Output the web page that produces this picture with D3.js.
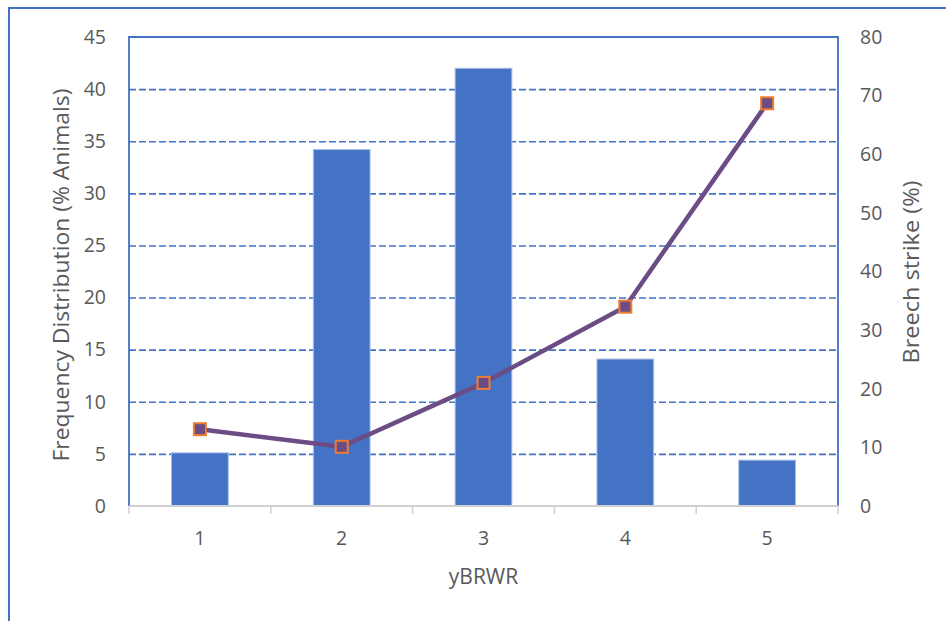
<!DOCTYPE html>
<html>
<head>
<meta charset="utf-8">
<script src="https://cdn.jsdelivr.net/npm/d3@7"></script>
<style>
  html, body { margin: 0; padding: 0; background: #fff; }
  svg { display: block; }
  text { font-family: "Open Sans", sans-serif; fill: #595959; }
</style>
</head>
<body>
<svg id="chart" width="946" height="621"></svg>
<script>
// yBRWR score categories
const categories = ["1", "2", "3", "4", "5"];
// Frequency distribution (% animals) per category — bars, left axis
const frequency = [5.1, 34.2, 42.0, 14.1, 4.4];
// Breech strike (%) per category — line, right axis
const breechStrike = [13.1, 10.1, 21.0, 34.0, 68.7];
// Axis tick values
const leftTicks = [0, 5, 10, 15, 20, 25, 30, 35, 40, 45];
const rightTicks = [0, 10, 20, 30, 40, 50, 60, 70, 80];

const svg = d3.select("#chart");
const plot = { left: 129, right: 838, top: 37, bottom: 506 };
const blue = "#4472c4";
const tickFont = 19.5;

const x = d3.scaleBand().domain(categories).range([plot.left, plot.right]).padding(0);
const yL = d3.scaleLinear().domain([0, 45]).range([plot.bottom, plot.top]);
const yR = d3.scaleLinear().domain([0, 80]).range([plot.bottom, plot.top]);

// Outer chart frame (left and top edges visible)
svg.append("path")
  .attr("d", `M9,621 V8 H946`)
  .attr("fill", "none")
  .attr("stroke", blue)
  .attr("stroke-width", 2);

// Dashed horizontal gridlines
const grid = svg.append("g")
  .attr("transform", `translate(${plot.left},0)`)
  .call(d3.axisLeft(yL).tickValues(leftTicks.filter(v => v > 0 && v < 45))
    .tickSize(-(plot.right - plot.left)).tickFormat(""));
grid.select(".domain").remove();
grid.selectAll(".tick line")
  .attr("stroke", blue)
  .attr("stroke-width", 1.6)
  .attr("stroke-dasharray", "7,3");

// Bars
const barW = x.bandwidth() * 0.4;
svg.append("g").selectAll("rect")
  .data(categories)
  .join("rect")
  .attr("x", (d) => x(d) + (x.bandwidth() - barW) / 2)
  .attr("y", (d, i) => yL(frequency[i]))
  .attr("width", barW)
  .attr("height", (d, i) => plot.bottom - yL(frequency[i]))
  .attr("fill", blue)
  .attr("stroke", "#a9bde3")
  .attr("stroke-width", 1);

// Plot area border: left, top, right in blue
svg.append("path")
  .attr("d", `M${plot.left},${plot.bottom} V${plot.top} H${plot.right} V${plot.bottom}`)
  .attr("fill", "none")
  .attr("stroke", blue)
  .attr("stroke-width", 1.8);

// Category axis line and boundary tick marks
svg.append("line")
  .attr("x1", plot.left).attr("x2", plot.right)
  .attr("y1", plot.bottom).attr("y2", plot.bottom)
  .attr("stroke", "#d0d0d0").attr("stroke-width", 2);
const bounds = categories.map(d => x(d)).concat([plot.right]);
svg.append("g").selectAll("line")
  .data(bounds)
  .join("line")
  .attr("x1", d => d).attr("x2", d => d)
  .attr("y1", plot.bottom).attr("y2", plot.bottom + 8)
  .attr("stroke", "#d0d0d0").attr("stroke-width", 1.5);

// Category labels
const xAxis = svg.append("g")
  .attr("transform", `translate(0,${plot.bottom})`)
  .call(d3.axisBottom(x).tickSize(0).tickPadding(25));
xAxis.select(".domain").remove();
xAxis.selectAll("text").attr("font-size", tickFont).style("font-family", "'Open Sans', sans-serif").attr("fill", "#595959");

// Left value axis labels
const leftAxis = svg.append("g")
  .attr("transform", `translate(${plot.left},0)`)
  .call(d3.axisLeft(yL).tickValues(leftTicks).tickSize(0).tickPadding(23));
leftAxis.select(".domain").remove();
leftAxis.selectAll("text").attr("font-size", tickFont).style("font-family", "'Open Sans', sans-serif").attr("fill", "#595959");

// Right value axis labels
const rightAxis = svg.append("g")
  .attr("transform", `translate(${plot.right},0)`)
  .call(d3.axisRight(yR).tickValues(rightTicks).tickSize(0).tickPadding(22));
rightAxis.select(".domain").remove();
rightAxis.selectAll("text").attr("font-size", tickFont).style("font-family", "'Open Sans', sans-serif").attr("fill", "#595959");

// Breech strike line
const purple = "#6b4c85";
const line = d3.line()
  .x((d, i) => x(categories[i]) + x.bandwidth() / 2)
  .y(d => yR(d));
svg.append("path")
  .datum(breechStrike)
  .attr("d", line)
  .attr("fill", "none")
  .attr("stroke", purple)
  .attr("stroke-width", 4.5)
  .attr("stroke-linejoin", "round");

// Square markers
const m = 12;
svg.append("g").selectAll("rect")
  .data(breechStrike)
  .join("rect")
  .attr("x", (d, i) => x(categories[i]) + x.bandwidth() / 2 - m / 2)
  .attr("y", d => yR(d) - m / 2)
  .attr("width", m).attr("height", m)
  .attr("fill", purple)
  .attr("stroke", "#ed7d31")
  .attr("stroke-width", 2);

// Axis titles
svg.append("text")
  .attr("transform", `translate(61,275) rotate(-90)`)
  .attr("text-anchor", "middle")
  .attr("dominant-baseline", "central")
  .attr("font-size", 21)
  .attr("textLength", 373)
  .attr("lengthAdjust", "spacingAndGlyphs")
  .text("Frequency Distribution (% Animals)");

svg.append("text")
  .attr("transform", `translate(911,272) rotate(-90)`)
  .attr("text-anchor", "middle")
  .attr("dominant-baseline", "central")
  .attr("font-size", 21)
  .attr("textLength", 183)
  .attr("lengthAdjust", "spacingAndGlyphs")
  .text("Breech strike (%)");

svg.append("text")
  .attr("x", (plot.left + plot.right) / 2)
  .attr("y", 584)
  .attr("text-anchor", "middle")
  .attr("font-size", 21)
  .text("yBRWR");
</script>
</body>
</html>
